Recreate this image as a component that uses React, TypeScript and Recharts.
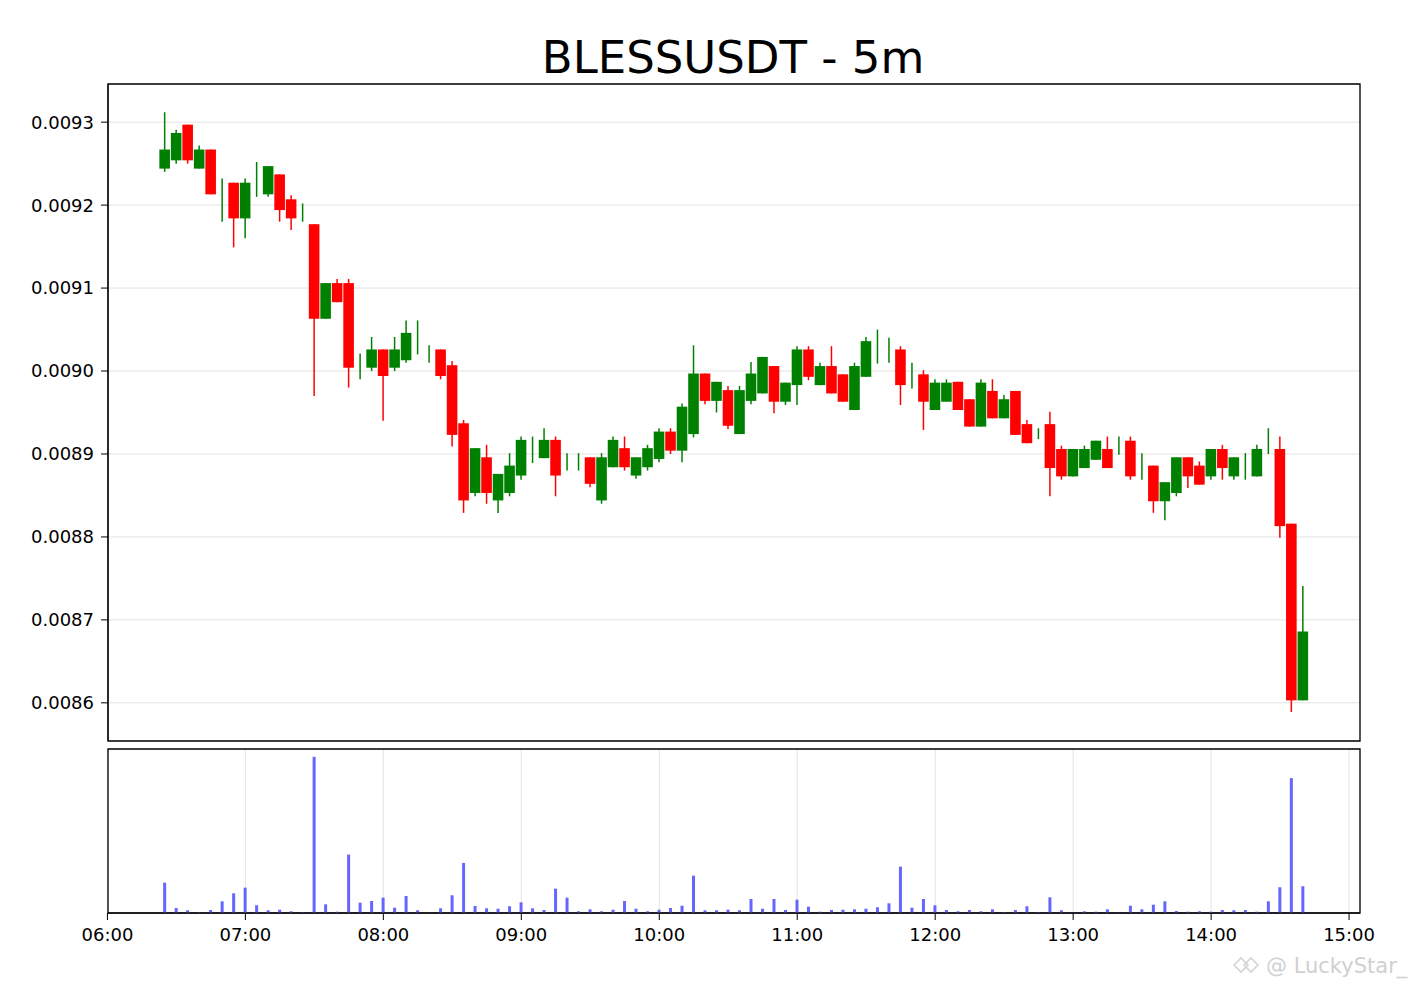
import React from 'react';
import { Bar, BarChart, CartesianGrid, ComposedChart, ReferenceArea, XAxis, YAxis } from 'recharts';

// BLESSUSDT 5m candles, 06:25 - 14:40
const times = [
  '06:25', '06:30', '06:35', '06:40', '06:45', '06:50', '06:55',
  '07:00', '07:05', '07:10', '07:15', '07:20', '07:25', '07:30', '07:35', '07:40', '07:45', '07:50', '07:55',
  '08:00', '08:05', '08:10', '08:15', '08:20', '08:25', '08:30', '08:35', '08:40', '08:45', '08:50', '08:55',
  '09:00', '09:05', '09:10', '09:15', '09:20', '09:25', '09:30', '09:35', '09:40', '09:45', '09:50', '09:55',
  '10:00', '10:05', '10:10', '10:15', '10:20', '10:25', '10:30', '10:35', '10:40', '10:45', '10:50', '10:55',
  '11:00', '11:05', '11:10', '11:15', '11:20', '11:25', '11:30', '11:35', '11:40', '11:45', '11:50', '11:55',
  '12:00', '12:05', '12:10', '12:15', '12:20', '12:25', '12:30', '12:35', '12:40', '12:45', '12:50', '12:55',
  '13:00', '13:05', '13:10', '13:15', '13:20', '13:25', '13:30', '13:35', '13:40', '13:45', '13:50', '13:55',
  '14:00', '14:05', '14:10', '14:15', '14:20', '14:25', '14:30', '14:35', '14:40',
];

const opens = [
  0.009244, 0.009254, 0.009297, 0.009244, 0.009267, 0.009213, 0.009227,
  0.009184, 0.009227, 0.009213, 0.009237, 0.009207, 0.00919, 0.009177, 0.009063, 0.009106, 0.009106, 0.009004, 0.009004,
  0.009026, 0.009004, 0.009013, 0.009046, 0.00902, 0.009026, 0.009007, 0.008937, 0.008853, 0.008896, 0.008844, 0.008853,
  0.008874, 0.00891, 0.008895, 0.008917, 0.00889, 0.00889, 0.008896, 0.008844, 0.008884, 0.008907, 0.008874, 0.008884,
  0.008894, 0.008927, 0.008904, 0.008924, 0.008997, 0.008964, 0.008977, 0.008924, 0.008964, 0.008973, 0.009006, 0.008963,
  0.008983, 0.009026, 0.008983, 0.009006, 0.008996, 0.008953, 0.008993, 0.00903, 0.009025, 0.009026, 0.00899, 0.008996,
  0.008953, 0.008963, 0.008987, 0.008966, 0.008933, 0.008976, 0.008943, 0.008976, 0.008936, 0.008925, 0.008936, 0.008906,
  0.008873, 0.008883, 0.008893, 0.008906, 0.00891, 0.008916, 0.008885, 0.008886, 0.008843, 0.008853, 0.008896, 0.008886,
  0.008873, 0.008906, 0.008873, 0.008885, 0.008873, 0.00891, 0.008906, 0.008816, 0.008603,
];

const highs = [
  0.009312, 0.009291, 0.009297, 0.009272, 0.009267, 0.009232, 0.009227,
  0.009232, 0.009252, 0.009247, 0.009237, 0.009212, 0.009202, 0.009177, 0.009106, 0.009111, 0.009111, 0.009021, 0.009041,
  0.009026, 0.009041, 0.009061, 0.009061, 0.009031, 0.009026, 0.009012, 0.008941, 0.008907, 0.008911, 0.008876, 0.008901,
  0.008921, 0.008921, 0.008931, 0.008921, 0.008901, 0.008901, 0.008896, 0.008901, 0.008921, 0.008921, 0.008896, 0.008911,
  0.008931, 0.008931, 0.008961, 0.009031, 0.008997, 0.008987, 0.008982, 0.008982, 0.009011, 0.009017, 0.009006, 0.008986,
  0.00903, 0.00903, 0.00901, 0.00903, 0.008996, 0.00901, 0.009041, 0.00905, 0.00904, 0.00903, 0.00901, 0.009001,
  0.00899, 0.00899, 0.008987, 0.008966, 0.00899, 0.00899, 0.008971, 0.008976, 0.008941, 0.008931, 0.008951, 0.00891,
  0.008906, 0.00891, 0.008916, 0.008921, 0.008921, 0.008921, 0.008901, 0.008886, 0.008866, 0.008896, 0.008896, 0.008891,
  0.008906, 0.008911, 0.008896, 0.008901, 0.008911, 0.008931, 0.008921, 0.008816, 0.008741,
];

const lows = [
  0.00924, 0.00925, 0.00925, 0.009244, 0.009213, 0.00918, 0.009149,
  0.00916, 0.00921, 0.00921, 0.00918, 0.00917, 0.00918, 0.00897, 0.009063, 0.009083, 0.00898, 0.00899, 0.009,
  0.00894, 0.009, 0.00901, 0.00902, 0.00901, 0.00899, 0.008909, 0.008829, 0.008849, 0.00884, 0.008829, 0.008849,
  0.008869, 0.008889, 0.008895, 0.008849, 0.00888, 0.00888, 0.00886, 0.00884, 0.008884, 0.00888, 0.00887, 0.00888,
  0.00889, 0.0089, 0.00889, 0.00892, 0.00896, 0.00895, 0.00893, 0.008924, 0.00896, 0.008973, 0.008949, 0.008959,
  0.008959, 0.008989, 0.008983, 0.008973, 0.008963, 0.008953, 0.008993, 0.009009, 0.00901, 0.008959, 0.008979, 0.008929,
  0.008953, 0.008963, 0.008953, 0.008933, 0.008933, 0.008943, 0.008943, 0.008923, 0.008913, 0.008918, 0.008849, 0.008869,
  0.008873, 0.008883, 0.008893, 0.008883, 0.008899, 0.008869, 0.008869, 0.008829, 0.00882, 0.008849, 0.008859, 0.008863,
  0.008869, 0.008869, 0.008869, 0.008869, 0.008873, 0.0089, 0.008799, 0.008589, 0.008603,
];

const closes = [
  0.009267, 0.009287, 0.009254, 0.009267, 0.009213, 0.009213, 0.009184,
  0.009227, 0.009227, 0.009247, 0.009194, 0.009184, 0.00919, 0.009063, 0.009106, 0.009083, 0.009004, 0.009004, 0.009026,
  0.008994, 0.009026, 0.009046, 0.009046, 0.00902, 0.008994, 0.008923, 0.008844, 0.008907, 0.008853, 0.008876, 0.008886,
  0.008917, 0.00891, 0.008917, 0.008874, 0.00889, 0.00889, 0.008864, 0.008896, 0.008917, 0.008884, 0.008896, 0.008907,
  0.008927, 0.008904, 0.008957, 0.008997, 0.008964, 0.008987, 0.008934, 0.008977, 0.008997, 0.009017, 0.008963, 0.008986,
  0.009026, 0.008993, 0.009006, 0.008973, 0.008963, 0.009006, 0.009036, 0.00903, 0.009025, 0.008983, 0.00899, 0.008963,
  0.008986, 0.008986, 0.008953, 0.008933, 0.008986, 0.008943, 0.008966, 0.008923, 0.008913, 0.008925, 0.008883, 0.008873,
  0.008906, 0.008906, 0.008916, 0.008883, 0.00891, 0.008873, 0.008885, 0.008843, 0.008866, 0.008896, 0.008873, 0.008863,
  0.008906, 0.008883, 0.008896, 0.008885, 0.008906, 0.00891, 0.008813, 0.008603, 0.008686,
];

const volumes = [
  303, 50, 27, 7, 30, 117, 197,
  253, 77, 27, 33, 17, 7, 1560, 87, 13, 583, 103, 120,
  153, 53, 170, 27, 3, 47, 177, 500, 70, 47, 43, 67,
  107, 47, 30, 243, 153, 17, 37, 17, 33, 120, 43, 17,
  33, 50, 73, 373, 27, 27, 33, 27, 140, 43, 140, 30,
  133, 63, 13, 30, 33, 37, 43, 57, 97, 463, 53, 140,
  77, 30, 17, 30, 17, 37, 7, 30, 67, 7, 157, 27,
  3, 17, 13, 37, 3, 73, 37, 83, 117, 20, 13, 17,
  13, 30, 27, 30, 13, 117, 257, 1347, 267,
];

const hourLabels = ['06:00', '07:00', '08:00', '09:00', '10:00', '11:00', '12:00', '13:00', '14:00', '15:00'];
const priceTicks = [0.0086, 0.0087, 0.0088, 0.0089, 0.009, 0.0091, 0.0092, 0.0093];

const toMin = (s: string) => Number(s.slice(0, 2)) * 60 + Number(s.slice(3, 5));
const fmtTime = (m: number) => `${String(Math.floor(m / 60)).padStart(2, '0')}:${String(Math.round(m % 60)).padStart(2, '0')}`;

const rows = times.map((t, i) => ({
  t: toMin(t),
  open: opens[i],
  high: highs[i],
  low: lows[i],
  close: closes[i],
  range: [lows[i], highs[i]],
  vol: volumes[i],
}));

const hourTicks = hourLabels.map(toMin);
// matplotlib-style 5% margins around the data
const xDomain: [number, number] = [360.25, 904.75];
const yDomain: [number, number] = [0.008554, 0.009346];
const volMax = Math.max(...volumes) * 1.05;

const FONT = '"DejaVu Sans", sans-serif';
const UP = '#008000';
const DOWN = '#ff0000';
const BODY_W = 10.6;
const GRID = '#e3e3e3';

const Candle = (props: any) => {
  const { x, y, width, height, payload } = props;
  if (!payload) return null;
  const { open, close, high, low } = payload;
  const top = Math.min(y, y + height);
  const h = Math.abs(height);
  const pix = (v: number) => top + ((high - v) / (high - low)) * h;
  const cx = x + width / 2;
  const color = close >= open ? UP : DOWN;
  const bTop = pix(Math.max(open, close));
  const bBot = pix(Math.min(open, close));
  return (
    <g>
      <line x1={cx} x2={cx} y1={top} y2={top + h} stroke={color} strokeWidth={1.5} />
      {bBot - bTop > 0.01 && (
        <rect x={cx - BODY_W / 2} y={bTop} width={BODY_W} height={bBot - bTop} fill={color} />
      )}
    </g>
  );
};

const tickStyle = { fontSize: 18, fill: '#000', fontFamily: FONT };

export default function App() {
  return (
    <div style={{ position: 'absolute', left: 0, top: 0, width: 1420, height: 990, background: '#fff', fontFamily: FONT }}>
      <svg width={1420} height={990} style={{ position: 'absolute', left: 0, top: 0, pointerEvents: 'none' }}>
        <text x={733} y={72.5} textAnchor="middle" fontSize={45} fontFamily={FONT} fill="#000">
          BLESSUSDT - 5m
        </text>
        <g stroke="#d4d4d4" strokeWidth={1.6} fill="none">
          <path d="M1234 965 l7 -7 l7 7 l-7 7 z" />
          <path d="M1244 965 l7 -7 l7 7 l-7 7 z" />
        </g>
        <text x={1266} y={973} fontSize={21} fontFamily={FONT} fill="#d0d0d0">
          @ LuckyStar_
        </text>
      </svg>

      <div style={{ position: 'absolute', left: 0, top: 0 }}>
        <ComposedChart width={1420} height={745} data={rows} margin={{ top: 84, right: 60, bottom: 4, left: 0 }}>
          <CartesianGrid stroke={GRID} strokeWidth={1} />
          <XAxis
            dataKey="t"
            type="number"
            domain={xDomain}
            ticks={hourTicks}
            allowDataOverflow
            tick={false}
            tickLine={false}
            axisLine={false}
            height={0}
          />
          <YAxis
            type="number"
            domain={yDomain}
            ticks={priceTicks}
            allowDataOverflow
            width={108}
            tick={tickStyle}
            tickFormatter={(v: number) => v.toFixed(4)}
            tickSize={7}
            tickMargin={7}
            tickLine={{ stroke: '#000' }}
            axisLine={{ stroke: '#000' }}
          />
          <Bar dataKey="range" barSize={11} shape={<Candle />} isAnimationActive={false} />
          <ReferenceArea
            x1={xDomain[0]}
            x2={xDomain[1]}
            y1={yDomain[0]}
            y2={yDomain[1]}
            fill="none"
            stroke="#000"
            strokeWidth={1.3}
            ifOverflow="visible"
          />
        </ComposedChart>
      </div>

      <div style={{ position: 'absolute', left: 0, top: 745 }}>
        <BarChart width={1420} height={245} data={rows} margin={{ top: 4, right: 60, bottom: 0, left: 108 }}>
          <CartesianGrid stroke={GRID} horizontal={false} />
          <XAxis
            dataKey="t"
            type="number"
            domain={xDomain}
            ticks={hourTicks}
            allowDataOverflow
            tickFormatter={fmtTime}
            tick={tickStyle}
            tickSize={7}
            tickMargin={8}
            tickLine={{ stroke: '#000' }}
            axisLine={{ stroke: '#000' }}
            height={77}
          />
          <YAxis hide type="number" domain={[0, volMax]} allowDataOverflow />
          <Bar dataKey="vol" fill="#6666ff" barSize={3} isAnimationActive={false} />
          <ReferenceArea
            x1={xDomain[0]}
            x2={xDomain[1]}
            y1={0}
            y2={volMax}
            fill="none"
            stroke="#000"
            strokeWidth={1.3}
            ifOverflow="visible"
          />
        </BarChart>
      </div>
    </div>
  );
}
